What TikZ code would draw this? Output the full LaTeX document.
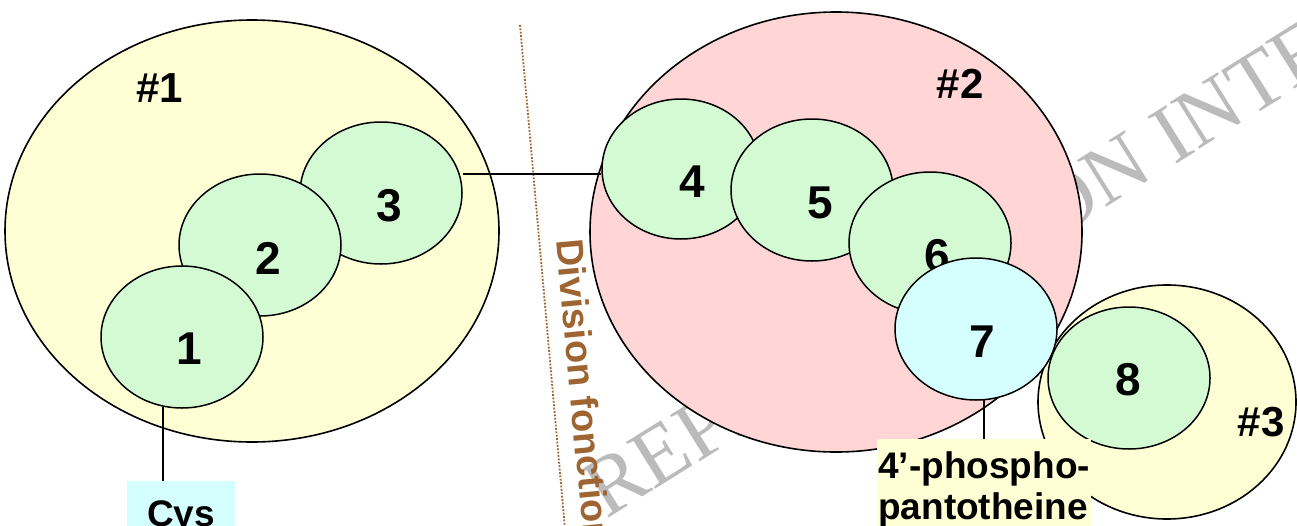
\documentclass[tikz,border=0pt]{standalone}
\usepackage{fontspec}
\setmainfont{Liberation Sans}
\newfontfamily\wmfont{Liberation Serif}
\usetikzlibrary{shapes.geometric}
\definecolor{yel}{HTML}{FFFFD5}
\definecolor{pnk}{HTML}{FFD5D5}
\definecolor{grn}{HTML}{D4FAD4}
\definecolor{cyn}{HTML}{D5FFFF}
\definecolor{brn}{HTML}{9E6532}
\definecolor{wmgray}{HTML}{BBBBBB}
\begin{document}
\begin{tikzpicture}[x=1pt,y=-1pt,
  blob/.style={ellipse, draw=black, line width=1.6pt, inner sep=0pt},
  dom/.style={ellipse, draw=black, line width=1.5pt, fill=grn, inner sep=0pt, minimum width=162, minimum height=142},
  num/.style={font=\fontsize{46}{46}\selectfont\bfseries, inner sep=0pt},
  tag/.style={font=\fontsize{42}{42}\selectfont\bfseries, inner sep=0pt},
  conn/.style={draw=black, line width=1.6pt},
  lbl/.style={font=\fontsize{37}{41}\selectfont\bfseries}]
\useasboundingbox (0,0) rectangle (1297,525);
\clip (0,0) rectangle (1297,525);
% watermark
\node[rotate=32, anchor=base west, inner sep=0pt, text=wmgray, font=\wmfont\fontsize{84}{84}\selectfont] (wmk) at (606,520) {REPRODUCTION INTERDITE};
% dotted divider
\coordinate (dtop) at (520,25);
\coordinate (dbot) at (566,540);
\draw[brn, line width=1.8pt, dash pattern=on 1.8pt off 1.6pt] (dtop) -- (dbot);
\node[rotate=-84.7, anchor=base west, inner sep=0pt, text=brn, font=\fontsize{38}{38}\selectfont\bfseries] (div) at (556,240) {Division fonctionnelle};
% group 1
\node[blob, fill=yel, minimum width=494, minimum height=422] (g1) at (252,231) {};
\node[dom] (c3) at (381,193) {};
\node[num] (n3) at (389,206) {3};
\node[dom] (c2) at (260,245) {};
\node[num] (n2) at (268,258) {2};
\node[dom] (c1) at (182,337) {};
\node[num] (n1) at (189,349) {1};
\node[tag] (t1) at (160,88) {\#1};
% group 2 and 3
\node[blob, fill=pnk, minimum width=492, minimum height=440] (g2) at (836,232) {};
\node[tag] (t2) at (960,84) {\#2};
\node[blob, fill=yel, minimum width=258, minimum height=234] (g3) at (1167,402) {};
\node[tag] (t3) at (1261,422) {\#3};
\node[dom] (c8) at (1129,378) {};
\node[num] (n8) at (1128,380) {8};
\node[dom, minimum width=158, minimum height=140] (c4) at (681,169) {};
\node[num] (n4) at (692,182) {4};
\node[dom] (c5) at (812,190) {};
\node[num] (n5) at (820,203) {5};
\node[dom] (c6) at (930,243) {};
\node[num] (n6) at (937,256) {6};
\node[dom, fill=cyn] (c7) at (976,329) {};
\node[num] (n7) at (982,342) {7};
% connector 3 - 4
\coordinate (hy) at (0,174);
\draw[conn] (c3.east |- hy) -- (c4.west |- hy);
% labels
\node[lbl, fill=cyn, inner xsep=20pt, inner ysep=19pt, anchor=north] (cys) at (181,481) {Cys};
\coordinate (cysx) at (163,0);
\draw[conn] (c1.south -| cysx) ++(0,-2) -- (cys.north -| cysx);
\node[lbl, fill=yel, inner xsep=1pt, inner ysep=12pt, anchor=north west, align=left] (pp) at (877,439) {4’-phospho-\\pantotheine};
\coordinate (ppx) at (984,0);
\draw[conn] (c7.south -| ppx) ++(0,-2) -- (pp.north -| ppx);
\end{tikzpicture}
\end{document}
